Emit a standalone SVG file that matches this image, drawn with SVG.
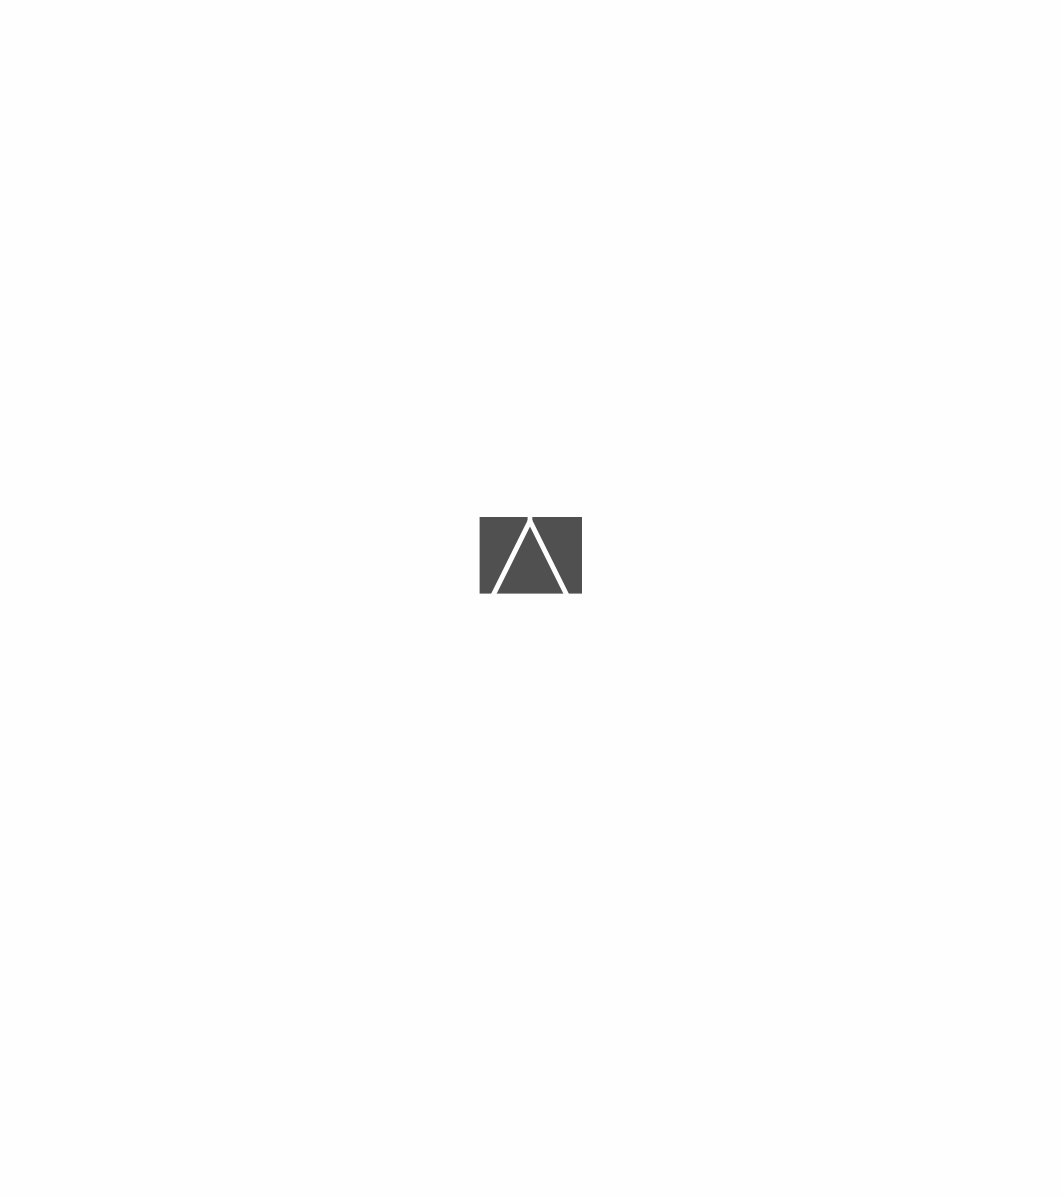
<svg xmlns="http://www.w3.org/2000/svg" width="1063" height="1198" viewBox="0 0 1063 1198">
<style>.s{fill:#505050}.l{fill:none;stroke:#fefefe;stroke-width:5;stroke-linejoin:round}.w{fill:#fefefe}</style>
<rect width="1063" height="1198" fill="#fefefe"/>
<g id="mark">
<rect class="s" x="479.6" y="517" width="102.4" height="76.6"/>
<path class="l" d="M492.5 596.5L530 521L567.5 596.5"/>
<rect class="w" x="527.6" y="516" width="4.7" height="5"/>
</g>
</svg>
